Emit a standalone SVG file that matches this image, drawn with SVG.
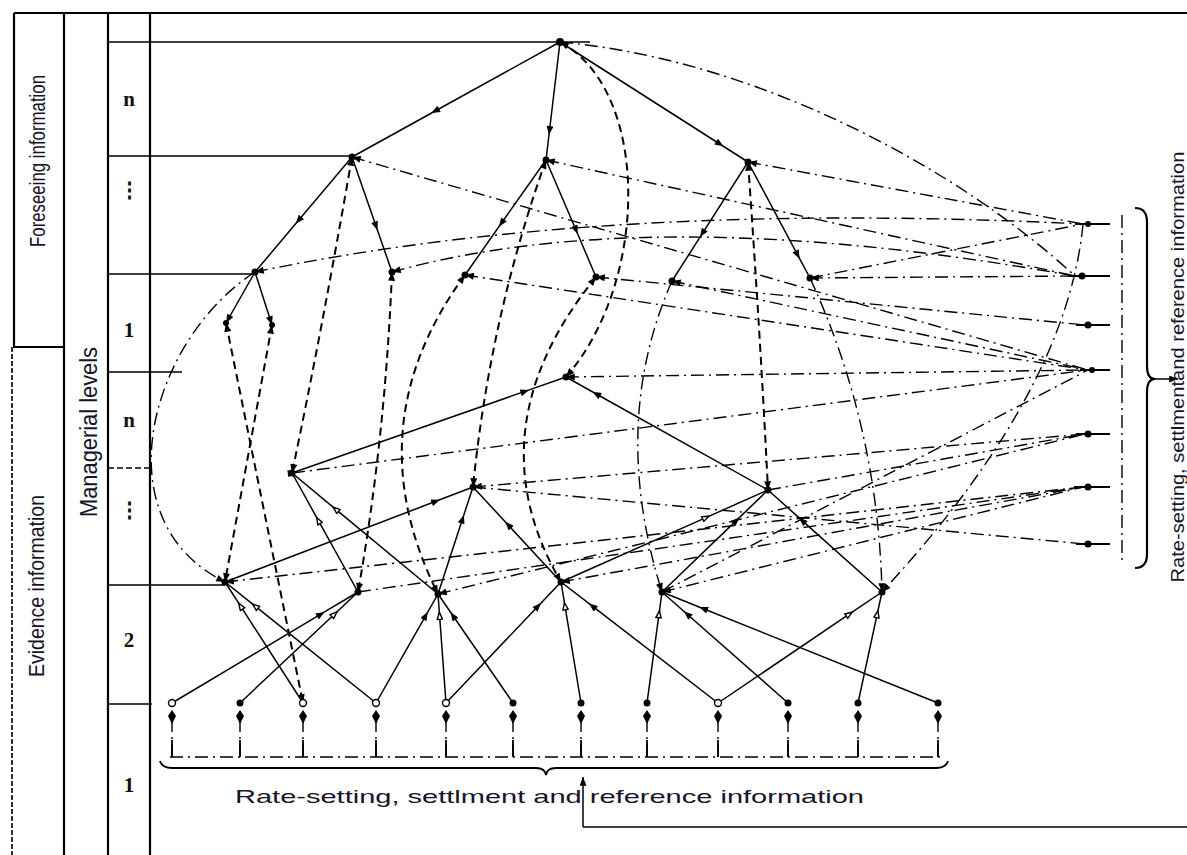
<svg xmlns="http://www.w3.org/2000/svg" width="1187" height="855" viewBox="0 0 1187 855">
<defs>
<style>
.s{stroke:#000;stroke-width:1.5;fill:none}
.d{stroke:#000;stroke-width:2;fill:none;stroke-dasharray:8 5}
.dd{stroke:#000;stroke-width:1.4;fill:none;stroke-dasharray:13 5 2 5}
.fr{stroke:#000;stroke-width:2.2;fill:none}
.lbl{font-family:"Liberation Sans",Arial,sans-serif;fill:#14142a}
.lv{font-family:"Liberation Serif","Times New Roman",serif;font-weight:bold;font-size:21px;fill:#111;text-anchor:middle}
.n{fill:#000}
.o{fill:#fff;stroke:#000;stroke-width:1.4}
</style>
<marker id="a" viewBox="0 0 10 8" refX="5" refY="4" markerWidth="10" markerHeight="7" orient="auto" markerUnits="userSpaceOnUse"><path d="M0,0 L10,4 L0,8 z" fill="#000"/></marker>
<marker id="ao" viewBox="0 0 10 8" refX="5" refY="4" markerWidth="10" markerHeight="7" orient="auto" markerUnits="userSpaceOnUse"><path d="M1,1 L9,4 L1,7 z" fill="#fff" stroke="#000" stroke-width="1.6"/></marker>
<marker id="ae" viewBox="0 0 10 8" refX="10" refY="4" markerWidth="10" markerHeight="7" orient="auto" markerUnits="userSpaceOnUse"><path d="M0,0 L10,4 L0,8 z" fill="#000"/></marker>
<marker id="as" viewBox="0 0 10 8" refX="10" refY="4" markerWidth="10" markerHeight="7" orient="auto-start-reverse" markerUnits="userSpaceOnUse"><path d="M0,0 L10,4 L0,8 z" fill="#000"/></marker>
</defs>
<rect width="1187" height="855" fill="#fff"/>

<g id="frame">
<path class="fr" d="M14,13 H1187"/>
<path class="fr" d="M14,13 V347 H64"/>
<path d="M12,347 V855" stroke="#000" stroke-width="1.6" stroke-dasharray="5 2" fill="none"/>
<path class="fr" d="M64,13 V855" stroke-width="2.6"/>
<path class="fr" d="M108,13 V855"/>
<path class="fr" d="M150,13 V855" stroke-width="2.8"/>
<path class="s" d="M108,42 H590 M108,156 H352 M108,274 H255 M108,372 H182 M108,704 H152 M108,585 H225"/>
<path d="M108,468 H152" stroke="#000" stroke-width="1.3" stroke-dasharray="6 3"/>
</g>

<g id="labels">
<text class="lbl" font-size="18" transform="translate(45,161) scale(1.2,1) rotate(-90)" text-anchor="middle" textLength="172" lengthAdjust="spacingAndGlyphs">Foreseeing information</text>
<text class="lbl" font-size="22" transform="translate(97,432) scale(1.1,1) rotate(-90)" text-anchor="middle" textLength="170" lengthAdjust="spacingAndGlyphs">Managerial levels</text>
<text class="lbl" font-size="19" transform="translate(44,586) scale(1.2,1) rotate(-90)" text-anchor="middle" textLength="182" lengthAdjust="spacingAndGlyphs">Evidence information</text>
<text class="lbl" font-size="19" transform="translate(1184,367) rotate(-90)" text-anchor="middle" textLength="431" lengthAdjust="spacingAndGlyphs">Rate-setting, settlmentand reference information</text>
<text class="lbl" font-size="19" x="235" y="803" textLength="629" lengthAdjust="spacingAndGlyphs">Rate-setting, settlment and reference information</text>
<text class="lv" x="129" y="106">n</text>
<text class="lv" x="129" y="197">⋮</text>
<text class="lv" x="129" y="337">1</text>
<text class="lv" x="129" y="427">n</text>
<text class="lv" x="129" y="517">⋮</text>
<text class="lv" x="129" y="647">2</text>
<text class="lv" x="129" y="792">1</text>
</g>

<g id="connectors">
<polyline class="s" points="560,42 435.2,111 352,157" marker-mid="url(#a)"/>
<polyline class="s" points="560,42 549.5,130.5 546,160" marker-mid="url(#a)"/>
<polyline class="s" points="560,42 719.8,144 748,162" marker-mid="url(#a)"/>
<polyline class="s" points="352,157 298.6,220.3 255,272" marker-mid="url(#a)"/>
<polyline class="s" points="352,157 376,226 392,272" marker-mid="url(#a)"/>
<polyline class="s" points="546,160 501.5,223 465,275" marker-mid="url(#a)"/>
<polyline class="s" points="546,160 576,230 596,277" marker-mid="url(#a)"/>
<polyline class="s" points="748,162 702.4,233.4 672,281" marker-mid="url(#a)"/>
<polyline class="s" points="748,162 797.6,254.8 810,278" marker-mid="url(#a)"/>
<path class="s" d="M255,272 L226,323" marker-end="url(#ae)"/>
<path class="s" d="M255,272 L272,325" marker-end="url(#ae)"/>
<polyline class="s" points="292,473 524.9,391.4 566,377" marker-mid="url(#a)"/>
<polyline class="s" points="768,490 596.3,394 566,377" marker-mid="url(#a)"/>
<polyline class="s" points="358,592 318.4,520.6 292,473" marker-mid="url(#ao)"/>
<polyline class="s" points="438,594 335.8,509.3 292,473" marker-mid="url(#ao)"/>
<polyline class="s" points="225,582 435.8,501.3 473,487" marker-mid="url(#a)"/>
<polyline class="s" points="438,594 462.5,519.1 473,487" marker-mid="url(#a)"/>
<polyline class="s" points="561,582 508.2,525 473,487" marker-mid="url(#a)"/>
<polyline class="s" points="561,582 705.9,517.6 768,490" marker-mid="url(#ao)"/>
<polyline class="s" points="662,592 736.2,520.6 768,490" marker-mid="url(#a)"/>
<polyline class="s" points="882,592 802.2,520.6 768,490" marker-mid="url(#a)"/>
<polyline class="s" points="303,703 240.6,606.2 225,582" marker-mid="url(#ao)"/>
<polyline class="s" points="376,703 255.2,606.2 225,582" marker-mid="url(#ao)"/>
<polyline class="s" points="172,703 320.8,614.2 358,592" marker-mid="url(#a)"/>
<polyline class="s" points="240,703 334.4,614.2 358,592" marker-mid="url(#ao)"/>
<polyline class="s" points="376,703 425.6,615.8 438,594" marker-mid="url(#a)"/>
<polyline class="s" points="446,703 439.6,615.8 438,594" marker-mid="url(#ao)"/>
<polyline class="s" points="513,703 453,615.8 438,594" marker-mid="url(#a)"/>
<polyline class="s" points="446,703 538,606.2 561,582" marker-mid="url(#a)"/>
<polyline class="s" points="581,703 565,606.2 561,582" marker-mid="url(#ao)"/>
<polyline class="s" points="718,703 592.4,606.2 561,582" marker-mid="url(#a)"/>
<polyline class="s" points="647,703 659,614.2 662,592" marker-mid="url(#ao)"/>
<polyline class="s" points="788,703 687.2,614.2 662,592" marker-mid="url(#a)"/>
<polyline class="s" points="938,703 703.4,608.7 662,592" marker-mid="url(#a)"/>
<polyline class="s" points="718,703 849.2,614.2 882,592" marker-mid="url(#ao)"/>
<polyline class="s" points="858,703 877.2,614.2 882,592" marker-mid="url(#ao)"/>
<path class="d" d="M352,157 Q322,330 292,473" marker-start="url(#as)" marker-end="url(#ae)"/>
<path class="d" d="M392,272 Q385,440 358,592" marker-start="url(#as)" marker-end="url(#ae)"/>
<path class="d" d="M272,325 L225,582" marker-start="url(#as)" marker-end="url(#ae)"/>
<path class="d" d="M226,323 L303,703" marker-start="url(#as)" marker-end="url(#ae)"/>
<path class="d" d="M465,275 Q354,426 438,594" marker-start="url(#as)" marker-end="url(#ae)"/>
<path class="d" d="M546,160 Q490,317 473,487" marker-start="url(#as)" marker-end="url(#ae)"/>
<path class="d" d="M596,277 Q472,430 561,582" marker-start="url(#as)" marker-end="url(#ae)"/>
<path class="d" d="M560,42 C650,90 650,280 566,377" marker-start="url(#as)" marker-end="url(#ae)"/>
<path class="d" d="M748,162 Q760,330 768,490" marker-start="url(#as)" marker-end="url(#ae)"/>
<path class="dd" d="M672,281 Q609,424 662,592" marker-end="url(#ae)"/>
<path class="dd" d="M810,278 Q878,425 882,592" marker-end="url(#ae)"/>
<path class="dd" d="M1083,224 Q1067,392 882,592" marker-end="url(#ae)"/>
<path class="dd" d="M255,272 C150,340 100,520 225,582" marker-end="url(#ae)"/>
<path class="dd" d="M560,42 C760,60 960,170 1075,276"/>
<path class="dd" d="M352,157 L1088,370" marker-start="url(#as)"/>
<path class="dd" d="M546,160 L1075,276" marker-start="url(#as)"/>
<path class="dd" d="M748,162 L1083,224" marker-start="url(#as)"/>
<path class="dd" d="M255,272 Q600,200 1083,224" marker-start="url(#as)"/>
<path class="dd" d="M392,272 Q650,200 1075,276" marker-start="url(#as)"/>
<path class="dd" d="M465,275 L1088,370" marker-start="url(#as)"/>
<path class="dd" d="M596,277 L1085,325" marker-start="url(#as)"/>
<path class="dd" d="M672,281 L1088,370" marker-start="url(#as)"/>
<path class="dd" d="M810,278 L1075,276" marker-start="url(#as)"/>
<path class="dd" d="M810,278 L1083,224"/>
<path class="dd" d="M566,377 L1088,370" marker-start="url(#as)"/>
<path class="dd" d="M292,473 L1088,370" marker-start="url(#ao)"/>
<path class="dd" d="M473,487 L1085,434" marker-start="url(#as)"/>
<path class="dd" d="M768,490 L1085,434"/>
<path class="dd" d="M225,582 L1083,487" marker-start="url(#as)"/>
<path class="dd" d="M358,592 L1083,487"/>
<path class="dd" d="M438,594 L1085,434" marker-start="url(#as)"/>
<path class="dd" d="M561,582 L1083,487" marker-start="url(#as)"/>
<path class="dd" d="M662,592 L1083,487" marker-start="url(#as)"/>
<path class="dd" d="M662,592 L1088,370"/>
<path class="dd" d="M473,487 L1085,544"/>
<path class="dd" d="M1122,215 V562" stroke-width="2"/>
<path d="M1075,224 H1110 M1068,276 H1110 M1076,325 H1110 M1080,370 H1110 M1076,434 H1110 M1074,487 H1110 M1076,544 H1110" stroke="#000" stroke-width="2" fill="none"/>
<path d="M1135,208 Q1147,208 1147,222 L1147,366 Q1147,379 1155,379 Q1147,379 1147,392 L1147,554 Q1147,568 1135,568" stroke="#000" stroke-width="2.2" fill="none"/>
<path class="s" d="M1150,379 H1178" stroke-width="2" marker-end="url(#ae)"/>
<path class="dd" d="M170,757 H942"/>
<path class="dd" d="M172,757 V711 M240,757 V711 M303,757 V711 M376,757 V711 M446,757 V711 M513,757 V711 M581,757 V711 M647,757 V711 M718,757 V711 M788,757 V711 M858,757 V711 M938,757 V711"/>
<path d="M172,740 V757 M240,740 V757 M303,740 V757 M376,740 V757 M446,740 V757 M513,740 V757 M581,740 V757 M647,740 V757 M718,740 V757 M788,740 V757 M858,740 V757 M938,740 V757" stroke="#000" stroke-width="1.8"/>
<path d="M172,724 L168,716 L172,710 L176,716 Z M240,724 L236,716 L240,710 L244,716 Z M303,724 L299,716 L303,710 L307,716 Z M376,724 L372,716 L376,710 L380,716 Z M446,724 L442,716 L446,710 L450,716 Z M513,724 L509,716 L513,710 L517,716 Z M581,724 L577,716 L581,710 L585,716 Z M647,724 L643,716 L647,710 L651,716 Z M718,724 L714,716 L718,710 L722,716 Z M788,724 L784,716 L788,710 L792,716 Z M858,724 L854,716 L858,710 L862,716 Z M938,724 L934,716 L938,710 L942,716 Z" fill="#000"/>
<path d="M160,761 Q162,768 172,768 L536,768 Q545,768 546,775 Q547,768 556,768 L936,768 Q946,768 948,761" stroke="#000" stroke-width="1.8" fill="none"/>
<path class="s" d="M583,827 V777" stroke-width="1.6" marker-end="url(#ae)"/>
<path class="s" d="M583,827 H1187" stroke-width="1.8"/>
</g>

<g id="node-T"><circle class="n" cx="560" cy="42" r="4"/></g>
<g id="node-A"><circle class="n" cx="352" cy="157" r="3.5"/></g>
<g id="node-B"><circle class="n" cx="546" cy="160" r="3.5"/></g>
<g id="node-C"><circle class="n" cx="748" cy="162" r="3.5"/></g>
<g id="node-A1"><circle class="n" cx="255" cy="272" r="3.5"/></g>
<g id="node-A2"><circle class="n" cx="392" cy="272" r="3.5"/></g>
<g id="node-B1"><circle class="n" cx="465" cy="275" r="3.5"/></g>
<g id="node-B2"><circle class="n" cx="596" cy="277" r="3.5"/></g>
<g id="node-C1"><circle class="n" cx="672" cy="281" r="3.5"/></g>
<g id="node-C2"><circle class="n" cx="810" cy="278" r="3.5"/></g>
<g id="node-a1"><circle class="n" cx="226" cy="323" r="3"/></g>
<g id="node-a2"><circle class="n" cx="272" cy="325" r="3"/></g>
<g id="node-E"><circle class="n" cx="566" cy="377" r="3.5"/></g>
<g id="node-F1"><circle class="n" cx="292" cy="473" r="3.5"/></g>
<g id="node-F2"><circle class="n" cx="473" cy="487" r="3.5"/></g>
<g id="node-F3"><circle class="n" cx="768" cy="490" r="3.5"/></g>
<g id="node-G1"><circle class="n" cx="225" cy="582" r="3.5"/></g>
<g id="node-G2"><circle class="n" cx="358" cy="592" r="3.5"/></g>
<g id="node-G3"><circle class="n" cx="438" cy="594" r="3.5"/></g>
<g id="node-G4"><circle class="n" cx="561" cy="582" r="3.5"/></g>
<g id="node-G5"><circle class="n" cx="662" cy="592" r="3.5"/></g>
<g id="node-G6"><circle class="n" cx="882" cy="592" r="3.5"/></g>
<g id="node-R1"><circle class="n" cx="1088" cy="224" r="3"/></g>
<g id="node-R2"><circle class="n" cx="1082" cy="276" r="3.5"/></g>
<g id="node-R3"><circle class="n" cx="1088" cy="325" r="3.5"/></g>
<g id="node-R4"><circle class="n" cx="1092" cy="370" r="3"/></g>
<g id="node-R5"><circle class="n" cx="1088" cy="434" r="3.5"/></g>
<g id="node-R6"><circle class="n" cx="1088" cy="487" r="3.5"/></g>
<g id="node-R7"><circle class="n" cx="1088" cy="544" r="3.5"/></g>
<g id="inputs">
<circle class="o" cx="172" cy="703" r="3.5"/>
<circle class="n" cx="240" cy="703" r="3.5"/>
<circle class="o" cx="303" cy="703" r="3.5"/>
<circle class="o" cx="376" cy="703" r="3.5"/>
<circle class="o" cx="446" cy="703" r="3.5"/>
<circle class="n" cx="513" cy="703" r="3.5"/>
<circle class="n" cx="581" cy="703" r="3.5"/>
<circle class="n" cx="647" cy="703" r="3.5"/>
<circle class="o" cx="718" cy="703" r="3.5"/>
<circle class="n" cx="788" cy="703" r="3.5"/>
<circle class="n" cx="858" cy="703" r="3.5"/>
<circle class="n" cx="938" cy="703" r="3.5"/>
</g>
</svg>
